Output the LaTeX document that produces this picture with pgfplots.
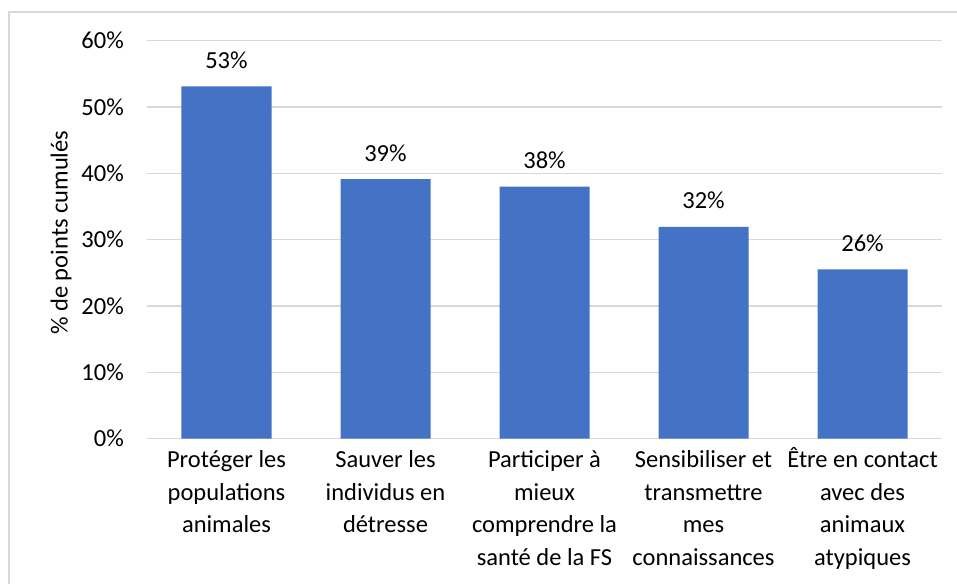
\documentclass[border=0pt]{standalone}
\usepackage{pgfplots}
\pgfplotsset{compat=1.18}
\usepackage{fontspec}
\setmainfont{Carlito}
\definecolor{barblue}{HTML}{4472C4}
\definecolor{gridgray}{HTML}{D9D9D9}
\newcommand{\fs}{\fontsize{24.5}{32.5}\selectfont}
\begin{document}
\begin{tikzpicture}
\useasboundingbox (-147pt,-144.4pt) rectangle (810pt,438.6pt);
\draw[gridgray, line width=1.5pt] (-138pt,-150pt) -- (-138pt,426.6pt) -- (815pt,426.6pt);
\begin{axis}[
  at={(0,0)}, anchor=south west,
  scale only axis,
  width=795pt, height=398pt,
  xmin=-0.5, xmax=4.5,
  ymin=0, ymax=60,
  ytick={0,10,20,30,40,50,60},
  yticklabel={\pgfmathprintnumber{\tick}\%},
  /pgf/number format/assume math mode=true,
  font=\fs,
  ymajorgrids,
  grid style={gridgray, line width=1.5pt},
  major tick length=0pt,
  axis x line*=bottom,
  axis y line*=left,
  axis line style={gridgray, line width=1.5pt},
  x axis line style={-},
  y axis line style={draw=none},
  xtick={0,1,2,3,4},
  xticklabels={
    {\vphantom{Ê}Protéger les\\populations\\animales},
    {\vphantom{Ê}Sauver les\\individus en\\détresse},
    {\vphantom{Ê}Participer à\\mieux\\comprendre la\\santé de la FS},
    {\vphantom{Ê}Sensibiliser et\\transmettre\\mes\\connaissances},
    {\vphantom{Ê}Être en contact\\avec des\\animaux\\atypiques}},
  xticklabel style={align=center, anchor=north, inner sep=0pt, yshift=-9pt, font=\fs},
  yticklabel style={anchor=east, inner sep=0pt, xshift=-23pt, font=\fs},
  ylabel={\% de points cumulés},
  ylabel style={font=\fs},
  every axis y label/.style={at={(axis description cs:0,0.5)}, rotate=90, anchor=center, yshift=86pt, xshift=7pt},
  ybar, bar width=90pt,
  nodes near coords={\pgfmathprintnumber[fixed,precision=0]{\pgfplotspointmeta}\%},
  every node near coord/.append style={anchor=base, inner sep=0pt, yshift=18pt, font=\fs, text=black},
  clip=false,
]
\addplot[fill=barblue, draw=none] coordinates {(0,53.1) (1,39.1) (2,38.0) (3,31.9) (4,25.5)};
\end{axis}
\end{tikzpicture}
\end{document}
